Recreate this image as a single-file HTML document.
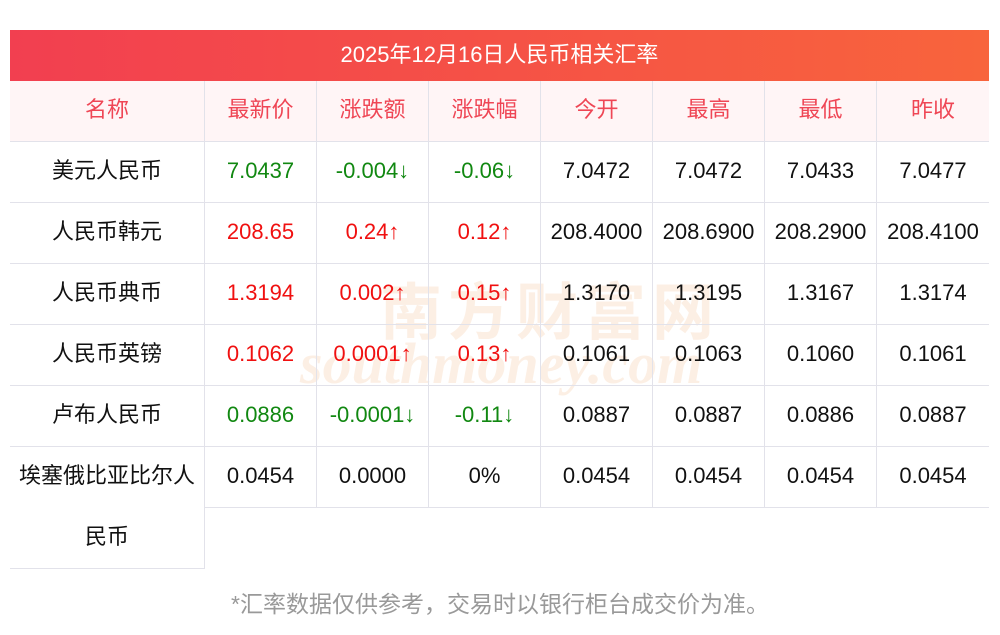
<!DOCTYPE html>
<html><head><meta charset="utf-8"><style>
body{margin:0;width:1000px;height:635px;background:#fff;position:relative;font-family:"Liberation Sans","Noto Sans CJK SC",sans-serif;overflow:hidden}
.t{position:absolute;left:10px;top:30px;width:979px;height:51px;background:linear-gradient(90deg,#f23f50,#f8643c);color:#fff;font-size:22px;line-height:49px;text-align:center}
.c{position:absolute;box-sizing:border-box;text-align:center;font-size:22px;line-height:57px;height:61px;border-bottom:1px solid #e2e2ea;border-right:1px solid #e2e2ea;color:#111;white-space:nowrap}
.c2{line-height:61px;padding-top:0;margin-top:-2px}
.h{background:#fff5f6;color:#ef4655}
.g{color:#118811}.r{color:#f01010}
.f{position:absolute;left:0;width:1000px;top:585px;text-align:center;color:#999;font-size:23px}
.wm{position:absolute;color:rgba(250,225,205,0.55);font-weight:bold;white-space:nowrap}
</style></head><body>
<div class="t">2025年12月16日人民币相关汇率</div>
<div class="wm" style="left:380px;top:262px;font-size:62px;letter-spacing:6px">南方财富网</div>
<div class="wm" style="left:300px;top:330px;font-size:58px;font-style:italic;font-family:'Liberation Serif',serif">southmoney.com</div>
<div id="w"></div>
<script>
var xs=[10,205,317,429,541,653,765,877,989];
var rows=[
["名称","最新价","涨跌额","涨跌幅","今开","最高","最低","昨收"],
["美元人民币","7.0437","-0.004↓","-0.06↓","7.0472","7.0472","7.0433","7.0477","g"],
["人民币韩元","208.65","0.24↑","0.12↑","208.4000","208.6900","208.2900","208.4100","r"],
["人民币典币","1.3194","0.002↑","0.15↑","1.3170","1.3195","1.3167","1.3174","r"],
["人民币英镑","0.1062","0.0001↑","0.13↑","0.1061","0.1063","0.1060","0.1061","r"],
["卢布人民币","0.0886","-0.0001↓","-0.11↓","0.0887","0.0887","0.0886","0.0887","g"],
["埃塞俄比亚比尔人","0.0454","0.0000","0%","0.0454","0.0454","0.0454","0.0454",""]];
var h="";
rows.forEach(function(r,i){var y=81+i*61;
for(var j=0;j<8;j++){var cls="c";if(i==0)cls+=" h";else if(j>=1&&j<=3&&r[8])cls+=" "+r[8];
var ht=61,txt=r[j],st="";
if(i==6&&j==0){ht=122;txt="埃塞俄比亚比尔人<br>民币";st+="line-height:61px;padding-bottom:2px;";}
if(j==7)st+="border-right:none;";
h+='<div class="'+cls+'" style="'+st+'left:'+xs[j]+'px;top:'+y+'px;width:'+(xs[j+1]-xs[j])+'px;height:'+ht+'px">'+(i==6&&j==0?'<div style="margin-top:-2px">'+txt+'</div>':txt)+'</div>';}});
document.getElementById("w").innerHTML=h;
</script>
<div class="f">*汇率数据仅供参考，交易时以银行柜台成交价为准。</div>
</body></html>
